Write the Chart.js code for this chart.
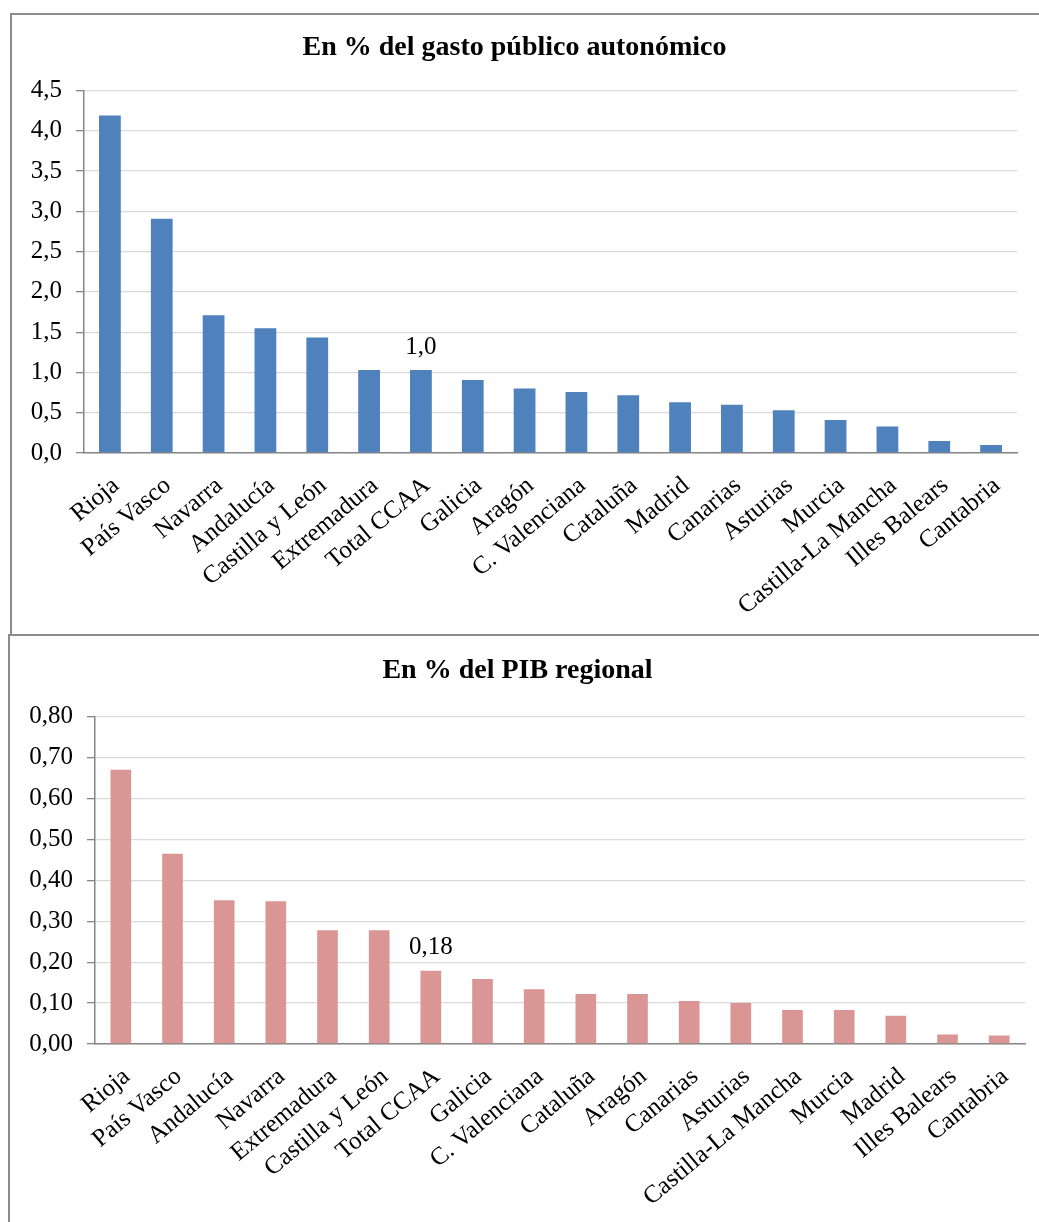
<!DOCTYPE html>
<html lang="es">
<head>
  <meta charset="UTF-8" />
  <title>Gasto autonómico por CCAA</title>
  <script src="https://cdn.jsdelivr.net/npm/chart.js"></script>
  <style>
    body {
      margin: 0;
      background: #fff;
      overflow: hidden;
    }
    .box {
      position: absolute;
      border: 2px solid #8c8c8c;
      background: #fff;
    }
    #box1 { left: 10px; top: 13px; width: 1040px; height: 619px; }
    #box2 { left: 8px; top: 634px; width: 1040px; height: 600px; }
    .wrap { position: absolute; left: 0; top: 0; }
    #wrap1 { width: 1027px; height: 619px; }
    #wrap2 { width: 1029px; height: 586px; }
  </style>
</head>
<body>
  <div class="box" id="box1"><div class="wrap" id="wrap1"><canvas id="gastoChart"></canvas></div></div>
  <div class="box" id="box2"><div class="wrap" id="wrap2"><canvas id="pibChart"></canvas></div></div>

  <script>
    // En % del gasto público autonómico
    const gastoLabels = ["Rioja", "País Vasco", "Navarra", "Andalucía", "Castilla y León", "Extremadura",
      "Total CCAA", "Galicia", "Aragón", "C. Valenciana", "Cataluña", "Madrid", "Canarias", "Asturias",
      "Murcia", "Castilla-La Mancha", "Illes Balears", "Cantabria"];
    const gastoValues = [4.19, 2.91, 1.71, 1.55, 1.435, 1.03, 1.03, 0.905, 0.80, 0.757, 0.716, 0.63,
      0.60, 0.53, 0.41, 0.33, 0.15, 0.10];

    // En % del PIB regional
    const pibLabels = ["Rioja", "País Vasco", "Andalucía", "Navarra", "Extremadura", "Castilla y León",
      "Total CCAA", "Galicia", "C. Valenciana", "Cataluña", "Aragón", "Canarias", "Asturias",
      "Castilla-La Mancha", "Murcia", "Madrid", "Illes Balears", "Cantabria"];
    const pibValues = [0.67, 0.465, 0.351, 0.349, 0.278, 0.278, 0.179, 0.159, 0.134, 0.122, 0.122,
      0.105, 0.10, 0.083, 0.083, 0.069, 0.023, 0.021];

    const serif = '"Liberation Serif", "Times New Roman", serif';
    const fmt = (v, d) => v.toFixed(d).replace(".", ",");

    // label only on the "Total CCAA" bar
    const totalLabel = {
      id: "totalLabel",
      afterDatasetsDraw(chart, args, opts) {
        const bar = chart.getDatasetMeta(0).data[opts.index];
        const ctx = chart.ctx;
        ctx.save();
        ctx.font = "25px " + serif;
        ctx.fillStyle = "#000";
        ctx.textAlign = "center";
        ctx.textBaseline = "middle";
        ctx.fillText(opts.text, bar.x, bar.y - 23);
        ctx.restore();
      }
    };

    function makeChart(id, title, labels, values, color, cfg) {
      const idx = labels.indexOf("Total CCAA");
      return new Chart(document.getElementById(id), {
        type: "bar",
        data: {
          labels: labels,
          datasets: [{
            data: values,
            backgroundColor: color,
            barPercentage: cfg.barPct,
            categoryPercentage: 1
          }]
        },
        plugins: [totalLabel],
        options: {
          responsive: true,
          maintainAspectRatio: false,
          animation: false,
          layout: { padding: { right: cfg.padRight } },
          plugins: {
            legend: { display: false },
            tooltip: { enabled: false },
            title: {
              display: true,
              text: title,
              color: "#000",
              font: { family: serif, size: 28, weight: "bold" },
              padding: { top: cfg.titleTop, bottom: cfg.titleBottom }
            },
            totalLabel: { index: idx, text: fmt(values[idx], cfg.decimals) }
          },
          scales: {
            x: {
              grid: { display: false, drawTicks: false },
              border: { color: "#868686", width: 1.5 },
              ticks: {
                color: "#000",
                font: { family: serif, size: 25 },
                minRotation: 40,
                maxRotation: 40,
                autoSkip: false,
                padding: 18,
                labelOffset: 6
              },
              afterFit: s => { s.height = cfg.xHeight; }
            },
            y: {
              min: 0,
              max: cfg.max,
              grid: { color: "#d9d9d9", tickColor: "#868686", tickLength: 8, lineWidth: 1.3 },
              border: { color: "#868686", width: 1.5 },
              ticks: {
                stepSize: cfg.step,
                color: "#000",
                font: { family: serif, size: 25 },
                padding: 14,
                callback: v => fmt(v, cfg.decimals)
              },
              afterFit: s => { s.width = cfg.yWidth; }
            }
          }
        }
      });
    }

    makeChart("gastoChart", "En % del gasto público autonómico", gastoLabels, gastoValues, "#4f81bd", {
      max: 4.5, step: 0.5, decimals: 1, barPct: 0.42,
      yWidth: 72, xHeight: 181, padRight: 22, titleTop: 16, titleBottom: 26
    });

    makeChart("pibChart", "En % del PIB regional", pibLabels, pibValues, "#d99694", {
      max: 0.8, step: 0.1, decimals: 2, barPct: 0.40,
      yWidth: 85, xHeight: 178, padRight: 14, titleTop: 18, titleBottom: 29
    });
  </script>
</body>
</html>
